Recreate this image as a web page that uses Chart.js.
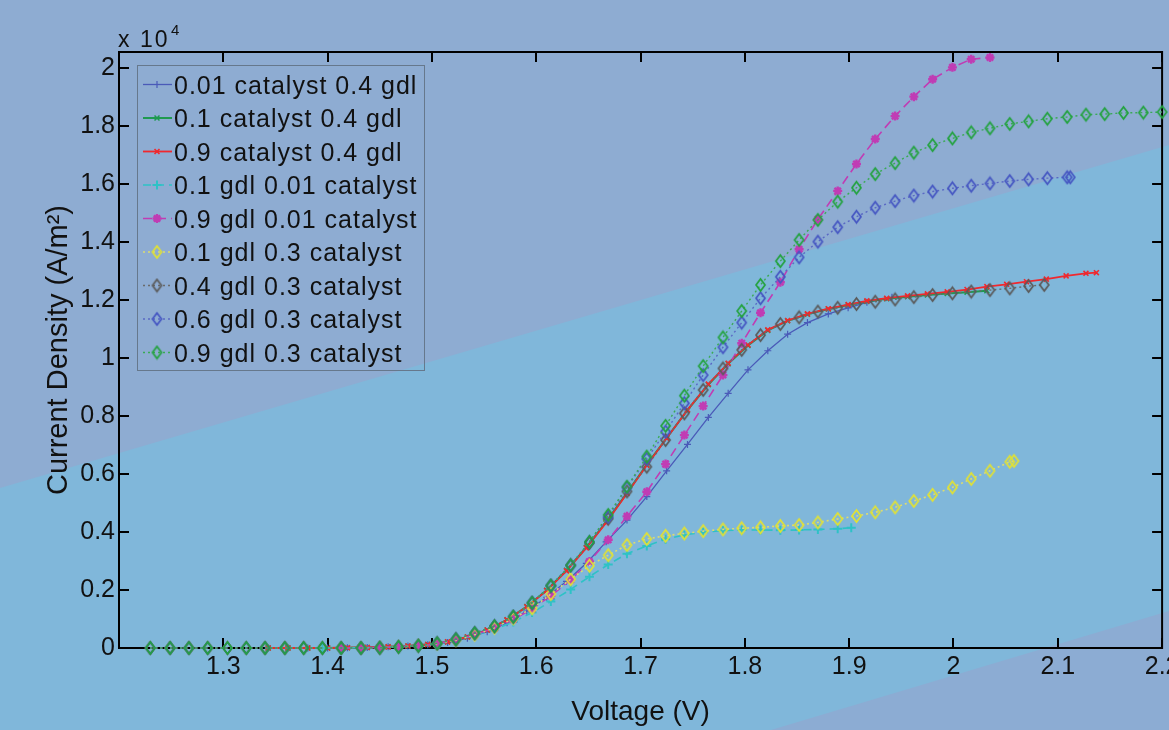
<!DOCTYPE html>
<html><head><meta charset="utf-8">
<script src="https://cdn.jsdelivr.net/npm/chart.js@4/dist/chart.umd.min.js"></script>
<style>html,body{margin:0;padding:0;overflow:hidden;background:#80B7DA}canvas{display:block}</style>
</head><body>
<canvas id="c" width="1169" height="730"></canvas>
<script>
// ---- tick labels ----
const xTickValues = [1.2,1.3,1.4,1.5,1.6,1.7,1.8,1.9,2.0,2.1,2.2];
const xTickLabels = ['','1.3','1.4','1.5','1.6','1.7','1.8','1.9','2','2.1','2.2'];
const yTickValues = [0,0.2,0.4,0.6,0.8,1.0,1.2,1.4,1.6,1.8,2.0];
const yTickLabels = ['0','0.2','0.4','0.6','0.8','1','1.2','1.4','1.6','1.8','2'];

// ---- data: voltage (V) and current density (x 10^4 A/m^2) ----
const v_01cat = [1.343,1.362,1.381,1.400,1.419,1.438,1.458,1.477,1.496,1.515,1.534,1.553,1.572,1.591,1.610,1.629,1.648,1.667,1.687,1.706,1.725,1.745,1.765,1.784,1.803,1.822,1.841,1.860,1.880,1.899,1.917,1.941];
const j_01cat = [0,0,0,0,0.001,0.002,0.004,0.007,0.011,0.019,0.034,0.056,0.087,0.127,0.175,0.230,0.292,0.366,0.441,0.522,0.611,0.702,0.795,0.878,0.959,1.025,1.082,1.122,1.152,1.173,1.192,1.209];

const v_1cat = [1.343,1.362,1.381,1.400,1.419,1.438,1.458,1.477,1.496,1.515,1.534,1.553,1.572,1.591,1.610,1.629,1.648,1.667,1.687,1.706,1.725,1.745,1.765,1.784,1.803,1.822,1.841,1.860,1.880,1.899,1.917,1.936,1.956,1.975,1.994,2.013,2.032];
const j_1cat = [0,0,0,0,0.001,0.002,0.004,0.007,0.012,0.021,0.038,0.062,0.097,0.143,0.199,0.268,0.347,0.435,0.535,0.632,0.724,0.820,0.908,0.980,1.043,1.095,1.128,1.151,1.169,1.183,1.195,1.204,1.211,1.217,1.222,1.227,1.232];

const v_9cat = [1.343,1.362,1.381,1.400,1.419,1.438,1.458,1.477,1.496,1.515,1.534,1.553,1.572,1.591,1.610,1.629,1.648,1.667,1.687,1.706,1.725,1.745,1.765,1.784,1.803,1.822,1.841,1.860,1.880,1.899,1.917,1.936,1.956,1.975,1.994,2.013,2.032,2.051,2.070,2.089,2.108,2.127,2.137];
const j_9cat = [0,0,0,0,0.001,0.002,0.004,0.007,0.012,0.021,0.038,0.062,0.097,0.142,0.198,0.266,0.345,0.432,0.533,0.630,0.723,0.821,0.910,0.982,1.045,1.097,1.129,1.152,1.170,1.184,1.197,1.206,1.214,1.221,1.228,1.236,1.246,1.254,1.263,1.272,1.283,1.292,1.294];

const v_1gdl001 = [1.395,1.413,1.432,1.450,1.468,1.487,1.505,1.523,1.541,1.560,1.578,1.596,1.614,1.633,1.651,1.669,1.687,1.706,1.724,1.742,1.760,1.779,1.797,1.815,1.834,1.852,1.870,1.889,1.902];
const j_1gdl001 = [0,0,0.001,0.002,0.004,0.008,0.014,0.026,0.044,0.064,0.090,0.122,0.160,0.202,0.246,0.288,0.325,0.352,0.375,0.390,0.399,0.405,0.407,0.407,0.406,0.407,0.409,0.411,0.415];

const v_9gdl001 = [1.413,1.432,1.450,1.468,1.487,1.505,1.523,1.541,1.560,1.578,1.596,1.614,1.633,1.651,1.669,1.687,1.706,1.724,1.742,1.760,1.779,1.797,1.815,1.834,1.852,1.870,1.889,1.907,1.925,1.944,1.962,1.980,1.999,2.017,2.035];
const j_9gdl001 = [0,0.001,0.002,0.004,0.008,0.015,0.028,0.046,0.068,0.098,0.135,0.180,0.235,0.298,0.373,0.454,0.539,0.634,0.734,0.834,0.941,1.051,1.156,1.261,1.375,1.478,1.576,1.669,1.755,1.834,1.901,1.961,2.002,2.030,2.036];

const v_1gdl03 = [1.230,1.249,1.267,1.285,1.304,1.322,1.340,1.359,1.377,1.395,1.413,1.432,1.450,1.468,1.487,1.505,1.523,1.541,1.560,1.578,1.596,1.614,1.633,1.651,1.669,1.687,1.706,1.724,1.742,1.760,1.779,1.797,1.815,1.834,1.852,1.870,1.889,1.907,1.925,1.944,1.962,1.980,1.999,2.017,2.035,2.054,2.058];
const j_1gdl03 = [0,0,0,0,0,0,0,0,0,0,0,0,0.001,0.004,0.008,0.015,0.027,0.046,0.070,0.102,0.137,0.186,0.237,0.284,0.320,0.355,0.376,0.387,0.395,0.403,0.409,0.413,0.416,0.421,0.424,0.433,0.445,0.455,0.468,0.485,0.507,0.528,0.554,0.583,0.611,0.642,0.645];

const v_4gdl03 = [1.230,1.249,1.267,1.285,1.304,1.322,1.340,1.359,1.377,1.395,1.413,1.432,1.450,1.468,1.487,1.505,1.523,1.541,1.560,1.578,1.596,1.614,1.633,1.651,1.669,1.687,1.706,1.724,1.742,1.760,1.779,1.797,1.815,1.834,1.852,1.870,1.889,1.907,1.925,1.944,1.962,1.980,1.999,2.017,2.035,2.054,2.072,2.087];
const j_4gdl03 = [0,0,0,0,0,0,0,0,0,0,0,0,0.001,0.004,0.008,0.016,0.030,0.051,0.075,0.108,0.156,0.215,0.285,0.362,0.446,0.540,0.625,0.717,0.809,0.890,0.964,1.028,1.079,1.117,1.140,1.160,1.173,1.186,1.194,1.202,1.210,1.217,1.223,1.229,1.234,1.240,1.248,1.252];

const v_6gdl03 = [1.230,1.249,1.267,1.285,1.304,1.322,1.340,1.359,1.377,1.395,1.413,1.432,1.450,1.468,1.487,1.505,1.523,1.541,1.560,1.578,1.596,1.614,1.633,1.651,1.669,1.687,1.706,1.724,1.742,1.760,1.779,1.797,1.815,1.834,1.852,1.870,1.889,1.907,1.925,1.944,1.962,1.980,1.999,2.017,2.035,2.054,2.072,2.090,2.109,2.112];
const j_6gdl03 = [0,0,0,0,0,0,0,0,0,0,0,0,0.001,0.004,0.008,0.016,0.030,0.051,0.075,0.108,0.156,0.215,0.285,0.366,0.452,0.553,0.652,0.746,0.844,0.941,1.037,1.122,1.206,1.280,1.347,1.401,1.451,1.487,1.518,1.541,1.560,1.574,1.585,1.594,1.602,1.610,1.616,1.620,1.623,1.623];

const v_9gdl03 = [1.230,1.249,1.267,1.285,1.304,1.322,1.340,1.359,1.377,1.395,1.413,1.432,1.450,1.468,1.487,1.505,1.523,1.541,1.560,1.578,1.596,1.614,1.633,1.651,1.669,1.687,1.706,1.724,1.742,1.760,1.779,1.797,1.815,1.834,1.852,1.870,1.889,1.907,1.925,1.944,1.962,1.980,1.999,2.017,2.035,2.054,2.072,2.090,2.109,2.127,2.145,2.163,2.182,2.200];
const j_9gdl03 = [0,0,0,0,0,0,0,0,0,0,0,0,0.001,0.004,0.008,0.016,0.030,0.051,0.075,0.108,0.156,0.215,0.285,0.366,0.459,0.556,0.660,0.766,0.870,0.972,1.071,1.162,1.252,1.334,1.407,1.476,1.539,1.587,1.634,1.672,1.708,1.734,1.757,1.778,1.792,1.807,1.816,1.825,1.831,1.839,1.841,1.845,1.846,1.848];

const seriesLabels = ['0.01 catalyst 0.4 gdl','0.1 catalyst 0.4 gdl','0.9 catalyst 0.4 gdl','0.1 gdl 0.01 catalyst','0.9 gdl 0.01 catalyst','0.1 gdl 0.3 catalyst','0.4 gdl 0.3 catalyst','0.6 gdl 0.3 catalyst','0.9 gdl 0.3 catalyst'];
const seriesV = [v_01cat,v_1cat,v_9cat,v_1gdl001,v_9gdl001,v_1gdl03,v_4gdl03,v_6gdl03,v_9gdl03];
const seriesJ = [j_01cat,j_1cat,j_9cat,j_1gdl001,j_9gdl001,j_1gdl03,j_4gdl03,j_6gdl03,j_9gdl03];

// ---- styles ----
function makeDiamond(color){
  const w=9,h=12,lw=1.7;
  const c=document.createElement('canvas'); c.width=w+4; c.height=h+4;
  const g=c.getContext('2d'); const cx=c.width/2, cy=c.height/2;
  g.strokeStyle=color; g.lineWidth=lw; g.beginPath();
  g.moveTo(cx,cy-h/2); g.lineTo(cx+w/2,cy); g.lineTo(cx,cy+h/2); g.lineTo(cx-w/2,cy); g.closePath(); g.stroke();
  return c;
}
const styles = [
  {color:'#4A5AB8', lineColor:'#4A5AB8', width:1.3, dash:[], point:'cross', r:3.5, pw:1.2},
  {color:'#1F9A50', lineColor:'#1F9A50', width:2, dash:[], point:'crossRot', r:3.5, pw:1.5},
  {color:'#F0282E', lineColor:'#F0282E', width:1.8, dash:[], point:'crossRot', r:3.5, pw:1.6},
  {color:'#2EC2C6', lineColor:'#2EC2C6', width:1.6, dash:[8,5], point:'cross', r:4.5, pw:2},
  {color:'#C03CB4', lineColor:'#C03CB4', width:1.6, dash:[9,5], point:'star', r:4.5, pw:2.4},
  {color:'#E2E232', lineColor:'#DCDC70', width:1.6, dash:[2,3], point:makeDiamond('#E2E232'), r:5, pw:1},
  {color:'#5A5A5A', lineColor:'#6A6A6A', width:1.4, dash:[2,3], point:makeDiamond('#5A5A5A'), r:5, pw:1},
  {color:'#4556C2', lineColor:'#5A68C4', width:1.4, dash:[2,3], point:makeDiamond('#4556C2'), r:5, pw:1},
  {color:'#22A23E', lineColor:'#3AAA55', width:1.4, dash:[2,3], point:makeDiamond('#22A23E'), r:5, pw:1}
];

const datasets = seriesLabels.map((lab,i)=>({
  label: lab,
  data: seriesV[i].map((x,k)=>({x:x, y:seriesJ[i][k]})),
  borderColor: styles[i].lineColor,
  borderWidth: styles[i].width,
  borderDash: styles[i].dash,
  pointStyle: styles[i].point,
  pointRadius: styles[i].r,
  pointBorderWidth: styles[i].pw,
  pointBorderColor: styles[i].color,
  pointBackgroundColor: styles[i].color,
  showLine: true, fill: false, tension: 0, clip: false,
  order: 9 - i
}));

function labelFor(values, labels, v){
  for(let i=0;i<values.length;i++){ if(Math.abs(values[i]-v)<1e-6) return labels[i]; }
  return '';
}

const bgPlugin = {
  id:'bg',
  beforeDraw(chart){
    const ctx=chart.ctx, W=chart.width, H=chart.height;
    ctx.save();
    ctx.fillStyle='#80B7DA'; ctx.fillRect(0,0,W,H);
    ctx.fillStyle='#8EACD2';
    ctx.beginPath(); ctx.moveTo(0,0); ctx.lineTo(W,0); ctx.lineTo(W,145); ctx.lineTo(0,488); ctx.closePath(); ctx.fill();
    ctx.fillStyle='#8CACD3';
    ctx.beginPath(); ctx.moveTo(771,H); ctx.lineTo(W,611); ctx.lineTo(W,H); ctx.closePath(); ctx.fill();
    ctx.restore();
  }
};

const boxPlugin = {
  id:'box',
  beforeDatasetsDraw(chart){
    const ctx=chart.ctx, a=chart.chartArea, xs=chart.scales.x, ys=chart.scales.y;
    ctx.save();
    ctx.strokeStyle='#000'; ctx.lineWidth=2;
    ctx.strokeRect(a.left, a.top, a.right-a.left, a.bottom-a.top);
    ctx.beginPath();
    xs.ticks.forEach(t=>{ const p=Math.round(xs.getPixelForValue(t.value));
      ctx.moveTo(p,a.bottom); ctx.lineTo(p,a.bottom-10); ctx.moveTo(p,a.top); ctx.lineTo(p,a.top+10); });
    ys.ticks.forEach(t=>{ const p=Math.round(ys.getPixelForValue(t.value));
      ctx.moveTo(a.left,p); ctx.lineTo(a.left+10,p); ctx.moveTo(a.right,p); ctx.lineTo(a.right-10,p); });
    ctx.stroke();
    ctx.restore();
  }
};

function drawMarker(ctx, ds, x, y){
  ctx.save();
  ctx.strokeStyle=ds.pointBorderColor; ctx.fillStyle=ds.pointBackgroundColor; ctx.lineWidth=ds.pointBorderWidth;
  if (Chart.helpers && Chart.helpers.drawPoint){
    Chart.helpers.drawPoint(ctx, {pointStyle:ds.pointStyle, radius:ds.pointRadius, borderWidth:ds.pointBorderWidth, rotation:0}, x, y);
  }
  ctx.restore();
}

const legendPlugin = {
  id:'mlegend',
  afterDraw(chart){
    const ctx=chart.ctx;
    ctx.save();
    ctx.strokeStyle='#66788C'; ctx.lineWidth=1;
    ctx.strokeRect(137.5,65.5,287,305);
    chart.data.datasets.forEach((ds,i)=>{
      const y = 84.5 + i*33.5;
      ctx.save();
      ctx.strokeStyle=ds.borderColor; ctx.lineWidth=ds.borderWidth; ctx.setLineDash(ds.borderDash);
      ctx.beginPath(); ctx.moveTo(143,y); ctx.lineTo(172,y); ctx.stroke();
      ctx.restore();
      drawMarker(ctx, ds, 157, y);
      ctx.save();
      ctx.fillStyle='#111'; ctx.font='25px "Liberation Sans", Arial, sans-serif';
      try{ ctx.letterSpacing='1px'; }catch(e){}
      ctx.textBaseline='alphabetic'; ctx.textAlign='left';
      ctx.fillText(ds.label, 174, y+9);
      ctx.restore();
    });
    // exponent label
    ctx.fillStyle='#111'; ctx.textBaseline='alphabetic'; ctx.textAlign='left';
    ctx.font='23px "Liberation Sans", Arial, sans-serif';
    try{ ctx.letterSpacing='2px'; }catch(e){}
    ctx.fillText('x 10', 118, 47);
    try{ ctx.letterSpacing='0px'; }catch(e){}
    ctx.font='15px "Liberation Sans", Arial, sans-serif';
    ctx.fillText('4', 171, 35);
    ctx.restore();
  }
};

const tickFont = {family:'"Liberation Sans", Arial, sans-serif', size:25, lineHeight:1.2};
const xTitleFont = {family:'"Liberation Sans", Arial, sans-serif', size:28, lineHeight:1.2};
const yTitleFont = {family:'"Liberation Sans", Arial, sans-serif', size:29, lineHeight:1.2};

new Chart(document.getElementById('c'), {
  type:'line',
  data:{datasets},
  options:{
    responsive:false, animation:false, devicePixelRatio:1,
    layout:{padding:{left:0, top:52, right:3, bottom:0}},
    plugins:{legend:{display:false}, tooltip:{enabled:false}},
    scales:{
      x:{type:'linear', min:1.2, max:2.2, bounds:'data',
         grid:{display:false, drawTicks:false, tickLength:0}, border:{display:false},
         ticks:{stepSize:0.1, includeBounds:false, autoSkip:false, maxRotation:0, padding:4, color:'#111', font:tickFont,
                callback:(v)=>labelFor(xTickValues,xTickLabels,v)},
         title:{display:true, text:'Voltage (V)', color:'#111', font:xTitleFont, padding:{top:0,bottom:1}},
         afterFit:(s)=>{ s.height=82; s.paddingLeft=0; s.paddingRight=0; }
      },
      y:{type:'linear', min:0, max:2.055, bounds:'data',
         grid:{display:false, drawTicks:false, tickLength:0}, border:{display:false},
         ticks:{stepSize:0.2, includeBounds:false, autoSkip:false, padding:4, color:'#111', font:tickFont,
                callback:(v)=>labelFor(yTickValues,yTickLabels,v)},
         title:{display:true, text:'Current Density (A/m²)', color:'#111', font:yTitleFont, padding:{top:42,bottom:0}},
         afterFit:(s)=>{ s.width=119; s.paddingTop=0; s.paddingBottom=0; }
      }
    }
  },
  plugins:[bgPlugin, boxPlugin, legendPlugin]
});
</script>
</body></html>
